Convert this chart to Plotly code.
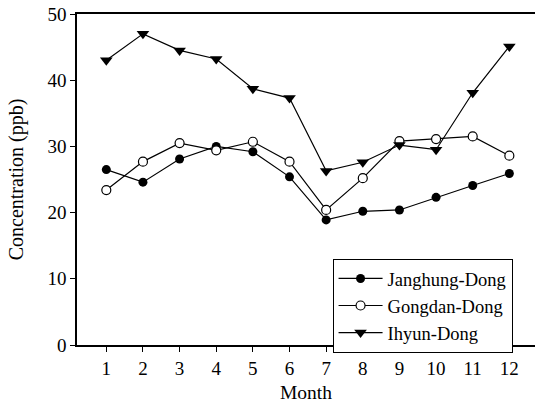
import plotly.graph_objects as go

months = [1, 2, 3, 4, 5, 6, 7, 8, 9, 10, 11, 12]
janghung = [26.5, 24.6, 28.1, 30.0, 29.2, 25.4, 18.9, 20.2, 20.4, 22.3, 24.1, 25.9]
gongdan = [23.4, 27.7, 30.5, 29.4, 30.7, 27.7, 20.4, 25.2, 30.8, 31.1, 31.5, 28.6]
ihyun = [43.0, 47.0, 44.5, 43.2, 38.7, 37.3, 26.3, 27.6, 30.2, 29.5, 38.1, 45.1]

font = "Liberation Serif, Times New Roman, serif"

fig = go.Figure()
fig.add_trace(go.Scatter(x=months, y=janghung, name="Janghung-Dong", mode="lines+markers",
                         line=dict(color="black", width=1.2),
                         marker=dict(symbol="circle", size=9, color="black")))
fig.add_trace(go.Scatter(x=months, y=gongdan, name="Gongdan-Dong", mode="lines+markers",
                         line=dict(color="black", width=1.2),
                         marker=dict(symbol="circle", size=9, color="white",
                                     line=dict(color="black", width=1.2))))
fig.add_trace(go.Scatter(x=months, y=ihyun, name="Ihyun-Dong", mode="lines+markers",
                         line=dict(color="black", width=1.2),
                         marker=dict(symbol="triangle-down", size=11, color="black")))

fig.update_layout(
    width=535, height=407,
    margin=dict(l=77, r=0, t=14, b=62, pad=0),
    paper_bgcolor="white", plot_bgcolor="white",
    font=dict(family=font, size=19, color="black"),
    showlegend=True,
    legend=dict(x=0.558, y=0.26, xanchor="left", yanchor="top",
                bordercolor="black", borderwidth=1, bgcolor="white",
                font=dict(family=font, size=18.5), tracegroupgap=0,
                itemwidth=44, entrywidth=195, entrywidthmode="pixels"),
    xaxis=dict(range=[0.2, 12.7], tickvals=months, showgrid=False, zeroline=False,
               showline=True, linecolor="black", linewidth=1.5, mirror=True,
               ticks="outside", ticklen=5, tickcolor="black",
               title=dict(text="Month", font=dict(family=font, size=19.5), standoff=8)),
    yaxis=dict(range=[0, 50], tickvals=[0, 10, 20, 30, 40, 50], showgrid=False, zeroline=False,
               showline=True, linecolor="black", linewidth=1.5,
               ticks="outside", ticklen=5, tickcolor="black",
               title=dict(text="Concentration (ppb)", font=dict(family=font, size=20), standoff=18)),
)

fig.write_html("out.html", config={"displayModeBar": False},
               post_script="document.body.style.margin='0';")
